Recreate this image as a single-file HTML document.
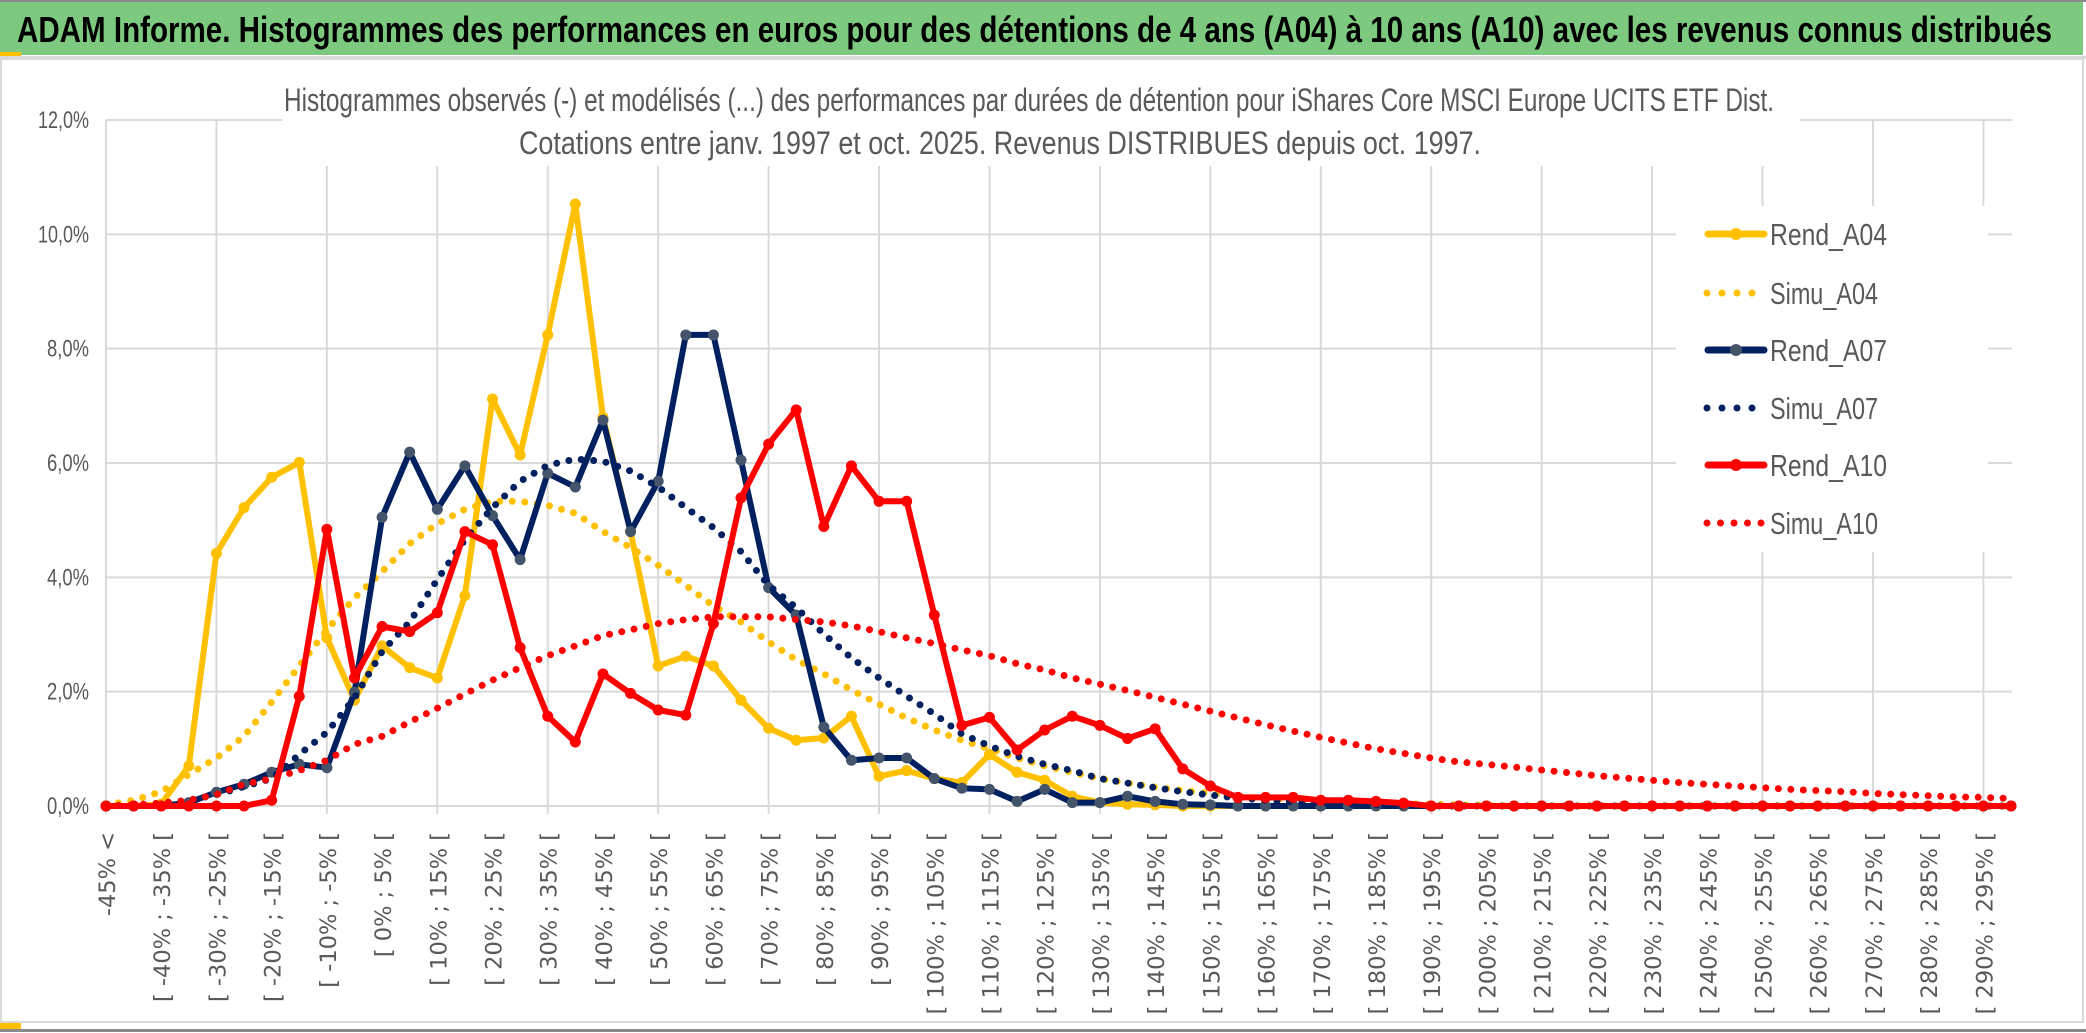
<!DOCTYPE html>
<html><head><meta charset="utf-8">
<style>
html,body{margin:0;padding:0;background:#fff;}
svg{display:block;}
text{font-family:"Liberation Sans Narrow","Liberation Sans",sans-serif;}
.tick{font-family:"DejaVu Sans","Liberation Sans",sans-serif;font-size:22.5px;fill:#595959;}
</style></head>
<body>
<svg id="chart" width="2086" height="1033" viewBox="0 0 2086 1033" xmlns="http://www.w3.org/2000/svg">
  <rect x="0" y="0" width="2086" height="1033" fill="#fff"/>
  <rect x="0" y="0" width="2086" height="2" fill="#8a8a8a"/>
  <rect x="0" y="2" width="2083" height="53" fill="#7DC97F"/>
  <rect x="0" y="52" width="21" height="4" fill="#FFC000"/>
  <rect x="0" y="56" width="2086" height="3" fill="#d9d9d9"/>
  <text x="17" y="42" font-size="36" font-weight="bold" fill="#000" textLength="2035" lengthAdjust="spacingAndGlyphs">ADAM Informe. Histogrammes des performances en euros pour des détentions de 4 ans (A04) à 10 ans (A10) avec les revenus connus distribués</text>
  <rect x="1" y="59" width="2082" height="963" fill="none" stroke="#d9d9d9" stroke-width="2"/>
  <rect x="0" y="1029" width="2086" height="3" fill="#8a8a8a"/>
  <rect x="0" y="1023" width="21" height="6" fill="#FFC000"/>
  <g id="grid"></g>
  <g id="series"></g>
  <g id="yaxis"></g>
  <g id="xaxis"></g>
  <rect x="282" y="66" width="1518" height="100" fill="#fff"/>
  <text x="284" y="111" font-size="32" fill="#595959" textLength="1490" lengthAdjust="spacingAndGlyphs">Histogrammes observés (-) et modélisés (...) des performances par durées de détention pour iShares Core MSCI Europe UCITS ETF Dist.</text>
  <text x="519" y="154" font-size="32" fill="#595959" textLength="962" lengthAdjust="spacingAndGlyphs">Cotations entre janv. 1997 et oct. 2025. Revenus DISTRIBUES depuis oct. 1997.</text>
  <g id="legend"></g>
</svg>
<script>
const tickLabels = ["-45% <","[ -40% ; -35% [","[ -30% ; -25% [","[ -20% ; -15% [","[ -10% ; -5% [","[ 0% ; 5% [","[ 10% ; 15% [","[ 20% ; 25% [","[ 30% ; 35% [","[ 40% ; 45% [","[ 50% ; 55% [","[ 60% ; 65% [","[ 70% ; 75% [","[ 80% ; 85% [","[ 90% ; 95% [","[ 100% ; 105% [","[ 110% ; 115% [","[ 120% ; 125% [","[ 130% ; 135% [","[ 140% ; 145% [","[ 150% ; 155% [","[ 160% ; 165% [","[ 170% ; 175% [","[ 180% ; 185% [","[ 190% ; 195% [","[ 200% ; 205% [","[ 210% ; 215% [","[ 220% ; 225% [","[ 230% ; 235% [","[ 240% ; 245% [","[ 250% ; 255% [","[ 260% ; 265% [","[ 270% ; 275% [","[ 280% ; 285% [","[ 290% ; 295% ["];
const yTickValues = [0,2,4,6,8,10,12];
const yTickLabels = ["0,0%","2,0%","4,0%","6,0%","8,0%","10,0%","12,0%"];
const rendA04 = [0,0,0.03,0.7,4.42,5.22,5.75,6.01,2.94,1.85,2.8,2.42,2.24,3.68,7.12,6.14,8.24,10.53,6.8,4.8,2.45,2.62,2.45,1.85,1.36,1.15,1.19,1.57,0.52,0.62,0.48,0.41,0.9,0.59,0.45,0.17,0.06,0.03,0.02,0,0,0,0,0,0,0,0,0,0,0,0,0,0,0,0,0,0,0,0,0,0,0,0,0,0,0,0,0,0,0];
const simuA04 = [0.02,0.1,0.25,0.55,0.84,1.22,1.82,2.45,3.08,3.64,4.1,4.59,4.94,5.19,5.33,5.33,5.26,5.12,4.8,4.52,4.21,3.86,3.5,3.22,2.87,2.56,2.31,2.03,1.78,1.54,1.33,1.15,1.0,0.84,0.7,0.59,0.48,0.4,0.33,0.27,0.22,0.17,0.13,0.1,0.08,0.06,0.05,0.04,0.03,0.02,0.01,0,0,0,0,0,0,0,0,0,0,0,0,0,0,0,0,0,0,0];
const rendA07 = [0,0,0,0.06,0.24,0.38,0.59,0.73,0.67,1.99,5.05,6.19,5.19,5.95,5.08,4.31,5.82,5.58,6.75,4.8,5.68,8.24,8.24,6.05,3.82,3.34,1.38,0.8,0.84,0.84,0.48,0.31,0.29,0.08,0.29,0.06,0.06,0.17,0.08,0.03,0.02,0,0,0,0,0,0,0,0,0,0,0,0,0,0,0,0,0,0,0,0,0,0,0,0,0,0,0,0,0];
const simuA07 = [0,0.02,0.05,0.1,0.2,0.34,0.48,0.9,1.29,1.89,2.7,3.22,3.96,4.66,5.22,5.68,5.96,6.07,6.03,5.86,5.58,5.22,4.87,4.45,3.86,3.47,3.01,2.59,2.24,1.92,1.61,1.26,1.05,0.87,0.73,0.62,0.48,0.4,0.32,0.25,0.19,0.14,0.1,0.07,0.05,0.03,0.02,0.01,0,0,0,0,0,0,0,0,0,0,0,0,0,0,0,0,0,0,0,0,0,0];
const rendA10 = [0,0,0,0,0,0,0.1,1.92,4.84,2.24,3.14,3.05,3.38,4.8,4.57,2.77,1.57,1.12,2.31,1.97,1.68,1.59,3.19,5.39,6.33,6.93,4.89,5.95,5.33,5.33,3.34,1.41,1.55,0.98,1.33,1.57,1.41,1.18,1.35,0.65,0.35,0.15,0.15,0.15,0.1,0.1,0.08,0.05,0,0,0,0,0,0,0,0,0,0,0,0,0,0,0,0,0,0,0,0,0,0];
const simuA10 = [0,0.02,0.05,0.1,0.2,0.38,0.48,0.62,0.8,1.08,1.22,1.47,1.71,1.96,2.2,2.42,2.63,2.8,2.98,3.08,3.19,3.26,3.31,3.31,3.31,3.26,3.22,3.15,3.05,2.94,2.84,2.73,2.63,2.49,2.38,2.24,2.13,2.02,1.9,1.78,1.66,1.54,1.42,1.31,1.2,1.1,1.0,0.92,0.84,0.77,0.73,0.68,0.63,0.58,0.53,0.49,0.45,0.41,0.38,0.35,0.32,0.29,0.27,0.25,0.22,0.2,0.18,0.16,0.15,0.13];

const NS = "http://www.w3.org/2000/svg";
const X0 = 106, X1 = 2011, Y0 = 806, Y12 = 120;
const nCat = rendA04.length;
function xs(i){ return X0 + (X1 - X0) * i / (nCat - 1); }
function ys(v){ return Y0 - (Y0 - Y12) * v / 12; }
function mk(tag, attrs, parent){
  const e = document.createElementNS(NS, tag);
  for (const k in attrs) e.setAttribute(k, attrs[k]);
  parent.appendChild(e);
  return e;
}
const grid = document.getElementById('grid');
yTickValues.forEach(v => {
  const l = mk('line', {x1: X0, x2: X1 + 1, y1: ys(v), y2: ys(v), stroke: '#d9d9d9', 'stroke-width': 2}, grid);
  
  
});
for (let i = 0; i < nCat; i += 4) {
  const l = mk('line', {x1: xs(i), x2: xs(i), y1: Y12, y2: Y0 + 8, stroke: '#d9d9d9', 'stroke-width': 2}, grid);
  
  
}
const yaxis = document.getElementById('yaxis');
yTickValues.forEach((v, k) => {
  const lab = yTickLabels[k];
  const t = mk('text', {x: 89, y: ys(v) + 8, 'font-size': 24, fill: '#595959', 'text-anchor': 'end', textLength: lab.length === 5 ? 51 : 42, lengthAdjust: 'spacingAndGlyphs'}, yaxis);
  t.textContent = lab;
  
  
});
const xaxis = document.getElementById('xaxis');
tickLabels.forEach((lab, k) => {
  const cx = xs(k * 2);
  const t = mk('text', {transform: 'translate(' + (cx + 9) + ',832) rotate(-90)', 'text-anchor': 'end', class: 'tick'}, xaxis);
  t.textContent = lab;
  
  
});
const series = document.getElementById('series');
function pts(arr){ return arr.map((v, i) => xs(i).toFixed(1) + ',' + ys(v).toFixed(1)).join(' '); }
function drawRend(arr, color, markerColor, name){
  const g = mk('g', {}, series);
  
  
  mk('polyline', {points: pts(arr), fill: 'none', stroke: color, 'stroke-width': 6, 'stroke-linejoin': 'round'}, g);
  arr.forEach((v, i) => {
    const c = mk('circle', {cx: xs(i), cy: ys(v), r: 5.5, fill: markerColor}, g);
    
    
  });
}
function drawSimu(arr, color, name){
  const p = mk('polyline', {points: pts(arr), fill: 'none', stroke: color, 'stroke-width': 7, 'stroke-linecap': 'round', 'stroke-dasharray': '0 12.5'}, series);
  
  
}
drawRend(rendA04, '#FFC000', '#FFC000', 'rend-a04-line');
drawSimu(simuA04, '#FFC000', 'simu-a04-line');
drawRend(rendA07, '#002060', '#44546A', 'rend-a07-line');
drawSimu(simuA07, '#002060', 'simu-a07-line');
drawRend(rendA10, '#FF0000', '#FF0000', 'rend-a10-line');
drawSimu(simuA10, '#FF0000', 'simu-a10-line');

const legend = document.getElementById('legend');
const lb = mk('rect', {x: 1676, y: 206, width: 312, height: 346, fill: '#fff'}, legend);


const legendNames = ["Rend_A04","Simu_A04","Rend_A07","Simu_A07","Rend_A10","Simu_A10"];
const legendColors = ['#FFC000','#FFC000','#002060','#002060','#FF0000','#FF0000'];
const legendMarkers = ['#FFC000','#FFC000','#44546A','#002060','#FF0000','#FF0000'];
const legendY = [234, 293, 350, 408, 465, 523];
legendNames.forEach((nm, k) => {
  const g = mk('g', {}, legend);
  
  
  const y = legendY[k];
  if (k % 2 === 0) {
    mk('line', {x1: 1708, x2: 1764, y1: y, y2: y, stroke: legendColors[k], 'stroke-width': 7, 'stroke-linecap': 'round'}, g);
    mk('circle', {cx: 1736, cy: y, r: 6, fill: legendMarkers[k]}, g);
  } else {
    mk('line', {x1: 1707, x2: k === 5 ? 1763 : 1753, y1: y, y2: y, stroke: legendColors[k], 'stroke-width': 7, 'stroke-linecap': 'round', 'stroke-dasharray': k === 5 ? '0 13.5' : '0 15'}, g);
  }
  const t = mk('text', {x: 1770, y: y + 11, 'font-size': 31, fill: '#595959', textLength: k % 2 === 0 ? 117 : 108, lengthAdjust: 'spacingAndGlyphs'}, g);
  t.textContent = nm;
});
</script>
</body></html>
